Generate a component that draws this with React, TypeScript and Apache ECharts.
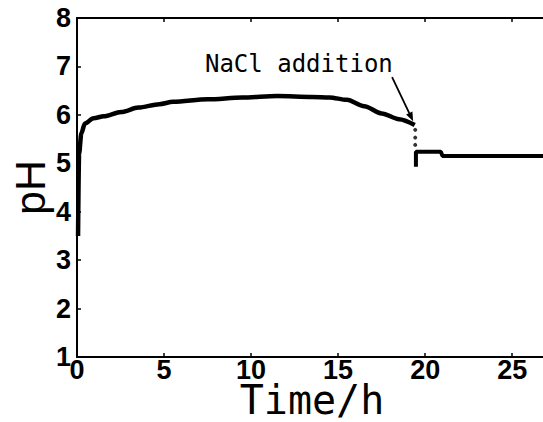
import React, { useEffect, useRef } from "react";
import * as echarts from "echarts";

// pH curve before NaCl addition (time in h, pH)
const curveTime = [0.06, 0.12, 0.25, 0.45, 0.95, 1.54, 2.54, 3.53, 4.73, 5.52, 7.51, 9.5, 11.5, 13.5, 14.5, 15.5, 16.5, 17.5, 18.5, 19.4];
const curvePH = [3.5, 5.2, 5.62, 5.82, 5.93, 5.97, 6.06, 6.15, 6.22, 6.27, 6.32, 6.36, 6.39, 6.37, 6.36, 6.31, 6.18, 6.03, 5.91, 5.79];

// dotted drop at addition
const dropTime = [19.43, 19.43, 19.43];
const dropPH = [5.69, 5.53, 5.38];

// after NaCl addition
const stepTime = [19.47, 19.47, 20.9, 21.0, 27];
const stepPH = [4.93, 5.24, 5.24, 5.15, 5.15];

const xTicks = [0, 5, 10, 15, 20, 25];
const yTicks = [1, 2, 3, 4, 5, 6, 7, 8];

const annotationText = "NaCl addition";
const arrowTail = [18.1, 6.78];
const arrowTip = [19.31, 5.87];
const textAnchor = [7.35, 7.3];

const FONT = "'Liberation Sans', Arial, sans-serif";
const MONO = "'DejaVu Sans Mono', monospace";

export default function App() {
  const ref = useRef<HTMLDivElement>(null);
  useEffect(() => {
    if (!ref.current) return;
    const chart = echarts.init(ref.current, null, { renderer: "svg" });
    const baseX = {
      type: "value" as const,
      min: xTicks[0],
      max: 27,
      interval: 5,
      splitLine: { show: false },
      axisLine: { show: true, onZero: false, lineStyle: { color: "#000", width: 2 } },
      axisTick: { show: true, inside: true, length: 4, lineStyle: { color: "#000", width: 1.5 } },
    };
    const baseY = {
      type: "value" as const,
      min: yTicks[0],
      max: yTicks[yTicks.length - 1],
      interval: 1,
      splitLine: { show: false },
      axisLine: { show: true, onZero: false, lineStyle: { color: "#000", width: 2 } },
      axisTick: { show: true, inside: true, length: 4, lineStyle: { color: "#000", width: 1.5 } },
    };
    chart.setOption({
      animation: false,
      backgroundColor: "#fff",
      grid: { left: 77, top: 18, right: -4, bottom: 65, containLabel: false, outerBoundsMode: "none" },
      xAxis: [
        {
          ...baseX,
          position: "bottom",
          name: "Time/h",
          nameLocation: "middle",
          nameGap: 27,
          nameMoveOverlap: false,
          nameTextStyle: { fontFamily: MONO, fontSize: 40, lineHeight: 32, color: "#000" },
          axisLabel: {
            fontFamily: FONT,
            fontWeight: "bold",
            fontSize: 27,
            lineHeight: 22,
            color: "#000",
            margin: 2,
            formatter: (v: number) => (xTicks.includes(v) ? String(v) : ""),
          },
        },
        { ...baseX, position: "top", axisLabel: { show: false } },
      ],
      yAxis: [
        {
          ...baseY,
          position: "left",
          name: "pH",
          nameLocation: "middle",
          nameGap: 26,
          nameMoveOverlap: false,
          nameRotate: 90,
          nameTextStyle: { fontFamily: FONT, fontSize: 43, color: "#000" },
          axisLabel: { fontFamily: FONT, fontWeight: "bold", fontSize: 27, color: "#000", margin: 6 },
        },
        { ...baseY, position: "right", axisLabel: { show: false } },
      ],
      series: [
        {
          type: "line",
          data: curveTime.map((t, i) => [t, curvePH[i]]),
          showSymbol: false,
          smooth: 0.3,
          smoothMonotone: "x",
          lineStyle: { color: "#000", width: 4.5 },
        },
        {
          type: "scatter",
          data: dropTime.map((t, i) => [t, dropPH[i]]),
          symbolSize: 4,
          itemStyle: { color: "#000" },
        },
        {
          type: "line",
          data: stepTime.map((t, i) => [t, stepPH[i]]),
          showSymbol: false,
          lineStyle: { color: "#000", width: 4 },
        },
      ],
    });
    const tail = chart.convertToPixel({ gridIndex: 0 }, arrowTail) as number[];
    const tip = chart.convertToPixel({ gridIndex: 0 }, arrowTip) as number[];
    const tp = chart.convertToPixel({ gridIndex: 0 }, textAnchor) as number[];
    const dx = tip[0] - tail[0];
    const dy = tip[1] - tail[1];
    const len = Math.sqrt(dx * dx + dy * dy);
    const ux = dx / len;
    const uy = dy / len;
    const hl = 9;
    const hw = 3.5;
    const bx = tip[0] - ux * hl;
    const by = tip[1] - uy * hl;
    chart.setOption({
      graphic: [
        {
          type: "text",
          x: tp[0],
          y: tp[1],
          style: { text: annotationText, fontFamily: MONO, fontSize: 24, fill: "#000", textVerticalAlign: "top" },
        },
        {
          type: "line",
          shape: { x1: tail[0], y1: tail[1], x2: bx, y2: by },
          style: { stroke: "#000", lineWidth: 1.8 },
        },
        {
          type: "polygon",
          shape: {
            points: [
              [tip[0], tip[1]],
              [bx - uy * hw, by + ux * hw],
              [bx + uy * hw, by - ux * hw],
            ],
          },
          style: { fill: "#000" },
        },
      ],
    });
    return () => chart.dispose();
  }, []);
  return <div ref={ref} style={{ position: "absolute", left: 0, top: 0, width: 543, height: 422 }} />;
}
